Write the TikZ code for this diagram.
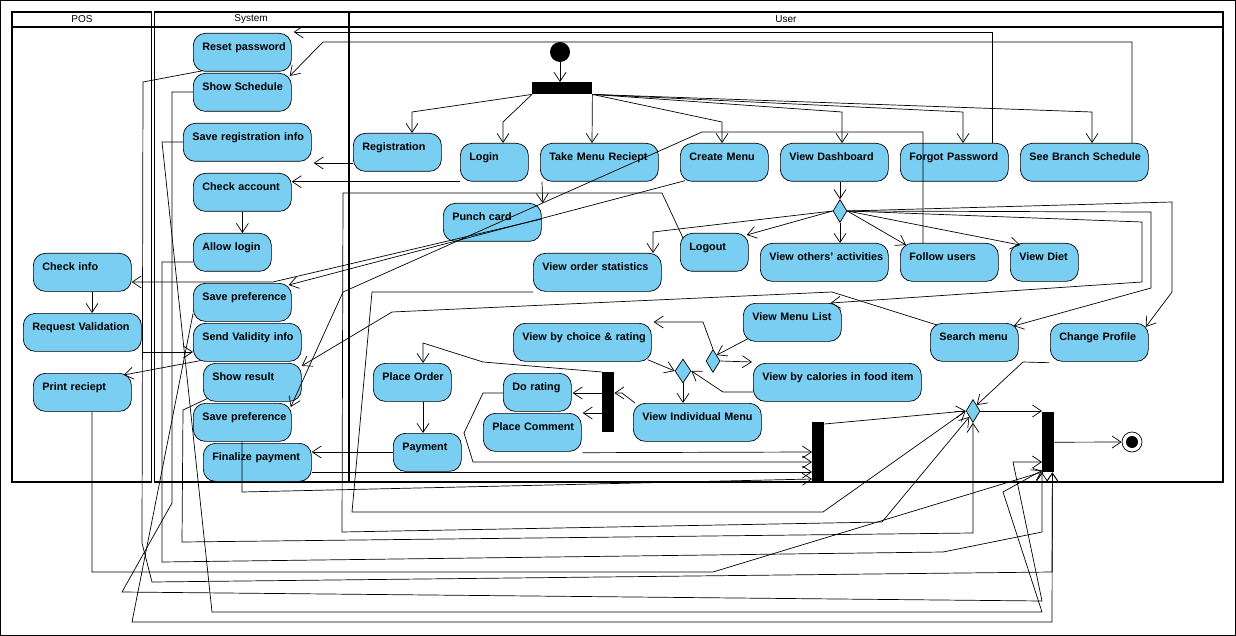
\documentclass[tikz,border=0pt]{standalone}
\usepackage{fontspec}
\setmainfont{Liberation Sans}
\usepackage{xcolor}
\usetikzlibrary{shapes.geometric, arrows.meta, calc}
\definecolor{actblue}{RGB}{122,206,241}

\begin{document}
\hyphenpenalty=10000
\exhyphenpenalty=10000
\begin{tikzpicture}[x=1pt, y=-1pt,
    act/.style={draw, fill=actblue, rounded corners=12pt, anchor=north west, line width=0.7pt,
        inner xsep=9pt, inner ysep=3pt, text width={#1-18pt}, text height=14pt, text depth=18pt,
        font=\fontsize{10.8}{12}\selectfont\bfseries},
    bar/.style={fill=black, inner sep=0pt, anchor=north west},
    dec/.style={draw, fill=actblue, diamond, inner sep=0pt, aspect=0.6,
        minimum width=14pt, minimum height=23pt, line width=0.7pt},
    lane/.style={line width=1.4pt},
    flow/.style={-{Straight Barb[length=9pt, width=12pt]}, line width=0.7pt},
    lanetext/.style={font=\fontsize{10}{12}\selectfont}
]
    \useasboundingbox (0,0) rectangle (1236,636);
    \draw[line width=0.8pt] (0.5,0.5) rectangle (1235.5,635.5);
    \draw[lane] (12,12) rectangle (151.5,482);
    \draw[lane] (154.5,12) rectangle (349,482);
    \draw[lane] (349,12) rectangle (1223,482);
    \draw[lane] (12,27) -- (1223,27);
    \node[lanetext] (poshead) at (82,19.5) {POS};
    \node[lanetext] (syshead) at (251,19.5) {System};
    \node[lanetext] (userhead) at (786,19.5) {User};

    \node[act=98pt] (rpw) at (193,33) {Reset~password};
    \node[act=98pt] (ssch) at (193,73) {Show~Schedule};
    \node[act=128pt] (sreg) at (183,123) {Save~registration~info};
    \node[act=98pt] (chk) at (193,173) {Check~account};
    \node[act=78pt] (allow) at (193,233) {Allow~login};
    \node[act=98pt] (spref) at (193,283) {Save~preference};
    \node[act=108pt] (valid) at (193,323) {Send~Validity~info};
    \node[act=98pt] (result) at (203,363) {Show~result};
    \node[act=98pt] (spref2) at (193,403) {Save~preference};
    \node[act=108pt] (fin) at (203,443) {Finalize~payment};

    \node[act=98pt] (cinfo) at (33,253) {Check~info};
    \node[act=118pt] (reqv) at (23,313) {Request~Validation};
    \node[act=98pt] (print) at (33,373) {Print~reciept};

    \node[circle, fill=black, minimum size=20pt, inner sep=0pt] (start) at (560,52) {};
    \node[bar, minimum width=60pt, minimum height=12pt] (fork) at (532,82) {};
    \node[act=88pt] (reg) at (353,133) {Registration};
    \node[act=68pt] (login) at (460,143) {Login};
    \node[act=118pt] (tmr) at (540,143) {Take~Menu~Reciept};
    \node[act=88pt] (cmenu) at (680,143) {Create~Menu};
    \node[act=108pt] (dash) at (780,143) {View~Dashboard};
    \node[act=108pt] (forgot) at (900,143) {Forgot~Password};
    \node[act=128pt] (branch) at (1020,143) {See~Branch~Schedule};
    \node[act=98pt] (punch) at (443,203) {Punch~card};
    \node[dec] (dec) at (840,211) {};
    \node[act=68pt] (logout) at (680,233) {Logout};
    \node[act=128pt] (vos) at (533,253) {View~order~statistics};
    \node[act=128pt] (others) at (760,243) {View~others'~activities};
    \node[act=98pt] (follow) at (900,243) {Follow~users};
    \node[act=68pt] (diet) at (1010,243) {View~Diet};
    \node[act=98pt] (mlist) at (743,303) {View~Menu~List};
    \node[act=138pt] (choice) at (513,323) {View~by~choice~\&~rating};
    \node[act=88pt] (search) at (930,323) {Search~menu};
    \node[act=98pt] (profile) at (1050,323) {Change~Profile};
    \node[dec] (dec2) at (713,361) {};
    \node[dec, minimum width=16pt, minimum height=24pt] (dec3) at (683,371) {};
    \node[act=168pt] (cal) at (753,363) {View~by~calories~in~food~item};
    \node[act=78pt] (order) at (373,363) {Place~Order};
    \node[act=68pt] (rate) at (503,373) {Do~rating};
    \node[bar, minimum width=12pt, minimum height=60pt] (forkb) at (602,372) {};
    \node[act=128pt] (indiv) at (633,403) {View~Individual~Menu};
    \node[act=98pt] (comment) at (483,413) {Place~Comment};
    \node[act=68pt] (pay) at (393,433) {Payment};
    \node[bar, minimum width=12pt, minimum height=60pt] (joina) at (812,422) {};
    \node[dec] (merge) at (973,411) {};
    \node[bar, minimum width=12pt, minimum height=60pt] (joinb) at (1042,412) {};
    \node[circle, draw, fill=white, minimum size=20pt, inner sep=0pt, line width=0.7pt] (final) at (1132,442) {};
    \node[circle, fill=black, minimum size=12pt, inner sep=0pt] (finaldot) at (final) {};

    \draw[flow] (start) -- (start |- fork.north);
    \draw[flow] (fork.south west) -- (412,112) -- ($(reg.north west)+(59,0)$);
    \draw[flow] (fork.south west) -- (503,122) -- ($(login.north west)+(43,0)$);
    \draw[flow] (fork.south east) -- ($(tmr.north west)+(52,0)$);
    \draw[flow] (fork.south east) -- (722,122) -- ($(cmenu.north west)+(42,0)$);
    \draw[flow] (fork.south east) -- (842,112) -- ($(dash.north west)+(62,0)$);
    \draw[flow] (fork.south east) -- (963,112) -- ($(forgot.north west)+(63,0)$);
    \draw[flow] (fork.south east) -- (1092,112) -- ($(branch.north west)+(72,0)$);
    \draw[flow] ($(forgot.north west)+(92,0)$) -- (992,32) -- ($(rpw.north east)+(2,-1)$);
    \draw[flow] ($(branch.north west)+(112,0)$) -- (1132,42) -- (323,42) -- ($(ssch.north east)+(-2,3)$);
    \draw[flow] ($(reg.north west)+(0,30)$) -- ($(sreg.north east)+(2,40)$);
    \draw[flow] (login.south west) -- (login.south west -| chk.east);
    \draw[flow] (chk.south) -- (chk.south |- allow.north);
    \draw[flow] ($(tmr.south west)+(2,0)$) -- ($(punch.north east)+(1,0)$);
    \draw[flow] (dec.north |- dash.south) -- (dec.north);
    \draw[flow] (dec.west) -- (653,232) -- ($(vos.north west)+(120,0)$);
    \draw[flow] (dec.west) -- ($(logout.north east)+(-2,2)$);
    \draw[flow] (dec.south) -- (dec.south |- others.north);
    \draw[flow] (dec.east) -- ($(follow.north west)+(6,2)$);
    \draw[flow] (dec.east) -- ($(diet.north west)+(10,2)$);
    \draw[flow] (dec.east) -- (1142,222) -- (1142,282) -- ($(mlist.north east)+(-11,0)$);
    \draw[flow] (dec.east) -- (1151,212) -- (1151,288) -- ($(search.north east)+(-5,3)$);
    \draw[flow] (dec.east) -- (1172,202) -- (1172,292) -- ($(profile.north east)+(-3,4)$);
    \draw[flow] ($(cinfo.south west)+(59,0)$) -- ($(reqv.north west)+(69,0)$);
    \draw[flow] ($(reqv.north east)+(0,39)$) -- ($(valid.north west)+(0,29)$);
    \draw[flow] ($(valid.south west)+(7,-1)$) -- ($(print.north east)+(-8,2)$);
    \draw[flow] ($(punch.north east)+(0,16)$) -- (273,282) -- ($(cinfo.north east)+(0,29)$);
    \draw[flow] ($(cmenu.south west)+(5,-1)$) -- ($(spref.north east)+(-3,2)$);
    \draw[flow] ($(follow.north west)+(23,0)$) -- (923,132) -- (702,132) -- (343,292) -- ($(spref2.north east)+(-1,4)$);
    \draw[flow] ($(search.north west)+(7,2)$) -- (832,292) -- (392,312) -- ($(result.north east)+(0,3)$);
    \draw[flow] ($(mlist.south west)+(5,-3)$) -- (dec2.north east);
    \draw[flow] (dec2.north) -- (703,322) -- ($(choice.north east)+(2,-1)$);
    \draw[flow] (dec2.east) -- ($(cal.north west)+(-1,-1)$);
    \draw[flow] ($(choice.south east)+(-4,-2)$) -- (dec3.west);
    \draw[flow] ($(cal.north west)+(0,29)$) -- (723,392) -- (dec3.east);
    \draw[flow] (dec3.south) -- (dec3.south |- indiv.north);
    \draw[flow] ($(indiv.north west)+(2,0)$) -- (622,393) -- ($(forkb.north east)+(0,21)$);
    \draw[flow] ($(forkb.north west)+(0,21)$) -- ($(rate.north east)+(1,20)$);
    \draw[flow] ($(forkb.north west)+(0,41)$) -- ($(comment.north east)+(1,0)$);
    \draw[flow] (forkb.north west) -- (483,362) -- (423,343) -- ($(order.north west)+(50,0)$);
    \draw[flow] ($(order.south west)+(50,0)$) -- ($(pay.north west)+(30,0)$);
    \draw[flow] ($(pay.north west)+(0,19)$) -- ($(fin.north east)+(0,9)$);
    \draw[flow] ($(rate.north west)+(0,20)$) -- (483,393) -- (464,433) -- (473,462) -- ($(joina.north west)+(0,40)$);
    \draw[flow] ($(comment.south east)+(1,1)$) -- ($(joina.north west)+(0,30)$);
    \draw[flow] ($(fin.north east)+(0,29)$) -- ($(joina.north west)+(0,50)$);
    \draw[flow] ($(spref2.south west)+(49,0)$) -- (242,492) -- ($(joina.north west)+(0,57)$);
    \draw[flow] ($(joina.north east)+(0,2)$) -- (merge.west);
    \draw[flow] ($(logout.north west)+(3,5)$) -- (662,193) -- (343,193) -- (342,532) -- (882,522) -- (merge.south west);
    \draw[flow] ($(vos.north west)+(0,39)$) -- (372,292) -- (352,512) -- (823,512) -- (merge.west);
    \draw[flow] ($(result.south west)+(4,-3)$) -- (183,410) -- (182,542) -- (973,533) -- (merge.south);
    \draw[flow] ($(profile.south west)+(-1,1)$) -- (1023,362) -- (merge.north east);
    \draw[flow] (merge.east) -- (merge.east -| joinb.west);
    \draw[flow] (joinb.east) -- (final);
    \draw[flow] ($(allow.north west)+(0,29)$) -- (162,262) -- (162,562) -- (943,552) -- (1042,532) -- (joinb.south west);
    \draw[flow] ($(print.south west)+(59,0)$) -- (92,572) -- (713,572) -- ($(joinb.south west)+(2,-1)$);
    \draw[flow] ($(rpw.south west)+(10,-1)$) -- (143,82) -- (142,543) -- (152,582) -- (1052,572) -- ($(joinb.south east)+(-2,0)$);
    \draw[flow] ($(ssch.north west)+(0,19)$) -- (172,92) -- (172,503) -- (122,592) -- (1042,601) -- (1013,462) -- ($(joinb.north west)+(0,50)$);
    \draw[flow] ($(sreg.north west)+(0,19)$) -- (162,142) -- (212,612) -- (1042,612) -- (1003,492) -- ($(joinb.south west)+(0,-2)$);
    \draw[flow] ($(spref.south west)+(0,-8)$) -- (132,622) -- (1052,622) -- ($(joinb.south east)+(-2,0)$);
\end{tikzpicture}
\end{document}
